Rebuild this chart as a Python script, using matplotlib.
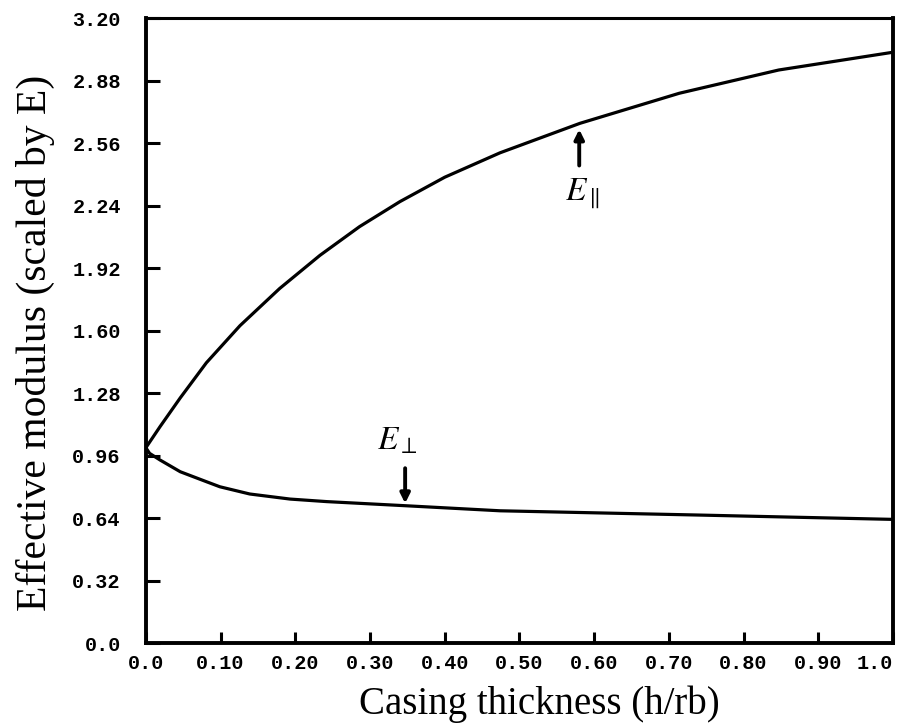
import matplotlib
matplotlib.use("Agg")
import matplotlib.pyplot as plt

# Effective modulus vs. casing thickness, parallel and perpendicular
x_par = [0.0, 0.019, 0.046, 0.081, 0.126, 0.179, 0.233, 0.286, 0.340,
         0.400, 0.474, 0.581, 0.714, 0.847, 1.0]
y_par = [1.0, 1.108, 1.255, 1.435, 1.625, 1.815, 1.985, 2.132, 2.260,
         2.385, 2.510, 2.661, 2.815, 2.934, 3.025]

x_perp = [0.0, 0.005, 0.019, 0.046, 0.081, 0.099, 0.139, 0.193, 0.242,
          0.347, 0.474, 0.620, 0.742, 0.870, 1.0]
y_perp = [1.0, 0.971, 0.937, 0.877, 0.826, 0.800, 0.763, 0.737, 0.724,
          0.703, 0.677, 0.665, 0.655, 0.644, 0.633]

x_ticks = [0.0, 0.1, 0.2, 0.3, 0.4, 0.5, 0.6, 0.7, 0.8, 0.9, 1.0]
x_tick_labels = ["0.0", "0.10", "0.20", "0.30", "0.40", "0.50",
                 "0.60", "0.70", "0.80", "0.90", "1.0"]
y_ticks = [0.0, 0.32, 0.64, 0.96, 1.28, 1.60, 1.92, 2.24, 2.56, 2.88, 3.20]
y_tick_labels = ["0.0", "0.32", "0.64", "0.96", "1.28", "1.60",
                 "1.92", "2.24", "2.56", "2.88", "3.20"]

plt.rcParams["mathtext.fontset"] = "stix"

fig = plt.figure(figsize=(9.06, 7.25), dpi=100)
ax = fig.add_axes([0.161, 0.1131, 0.8247, 0.862])

ax.plot(x_par, y_par, color="black", linewidth=2.3)
ax.plot(x_perp, y_perp, color="black", linewidth=2.3)

ax.set_xlim(0, 1.0)
ax.set_ylim(0, 3.20)

mono = dict(family="Liberation Mono", weight="bold", size=14.5)
ax.set_xticks(x_ticks)
ax.set_xticklabels(x_tick_labels, fontdict=mono)
ax.set_yticks(y_ticks)
ax.set_yticklabels(y_tick_labels, fontdict=mono)
ax.get_xticklabels()[-1].set_ha("right")

ax.tick_params(axis="x", direction="in", length=8, width=2.2, pad=8)
ax.tick_params(axis="y", direction="in", length=10, width=2.2, pad=18)

for side in ["left", "bottom", "right", "top"]:
    ax.spines[side].set_linewidth(2.8)
ax.spines["top"].set_linewidth(2.2)

ax.set_xlabel("Casing thickness (h/rb)", family="Liberation Serif", size=28)
ax.set_ylabel("Effective modulus (scaled by E)", family="Liberation Serif", size=30)
ax.xaxis.set_label_coords(0.527, -0.068)
ax.yaxis.set_label_coords(-0.122, 0.48)

# labelled arrows pointing at each curve
arrow = dict(arrowstyle="-|>", color="black", lw=2.8, mutation_scale=14,
             shrinkA=0, shrinkB=0)
ax.annotate("", xy=(0.58, 2.63), xytext=(0.58, 2.445), arrowprops=arrow)
ax.text(0.585, 2.30, r"$E_{\parallel}$", fontsize=24, ha="center", va="center")

ax.annotate("", xy=(0.347, 0.715), xytext=(0.347, 0.895), arrowprops=arrow)
ax.text(0.337, 1.04, r"$E_{\perp}$", fontsize=24, ha="center", va="center")

fig.savefig("out.png", dpi=100)
